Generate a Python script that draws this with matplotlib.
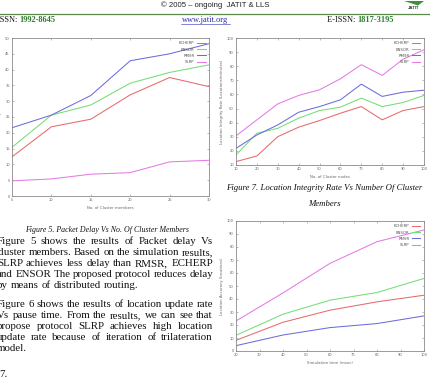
import matplotlib
matplotlib.use("Agg")
import matplotlib.pyplot as plt
from matplotlib.patches import Polygon
from matplotlib.lines import Line2D

W, H = 430, 377

# ---------------- data ----------------
series_names = ["ECHERP", "ENSOR", "RMSR", "SLRP"]
series_colors = ["#e66a6c", "#74de74", "#6c6cdc", "#e47ae4"]

fig5_x = [5, 10, 15, 20, 25, 30]
fig5_xlabels = ["5", "10", "15", "20", "25", "30"]
fig5_echerp = [12.4, 21.9, 24.3, 32.0, 37.5, 34.6]
fig5_ensor = [15.4, 25.6, 28.8, 35.7, 39.1, 41.5]
fig5_rmsr = [21.6, 25.6, 31.8, 42.8, 45.0, 48.2]
fig5_slrp = [4.8, 5.4, 6.9, 7.4, 10.8, 11.3]

fig7_x = [10, 20, 30, 40, 50, 60, 70, 80, 90, 100]
fig7_echerp = [12.4, 16.4, 30.1, 36.8, 41.5, 46.7, 51.4, 42.0, 48.6, 51.4]
fig7_ensor = [17.1, 32.5, 36.0, 43.2, 48.6, 51.0, 57.4, 51.4, 54.3, 59.3]
fig7_rmsr = [21.8, 31.3, 38.4, 47.4, 51.4, 56.2, 67.3, 58.6, 61.6, 63.0]
fig7_slrp = [30.6, 42.0, 53.3, 59.3, 63.3, 71.1, 81.1, 73.5, 85.0, 91.7]

fig8_x = [20, 40, 60, 80, 100]
fig8_echerp = [8.2, 22.1, 31.4, 37.8, 42.9]
fig8_ensor = [12.1, 28.3, 39.1, 45.0, 55.8]
fig8_rmsr = [4.1, 12.3, 18.0, 21.1, 27.0]
fig8_slrp = [23.1, 44.7, 67.4, 84.1, 93.1]

body_lines = [
    "Figure 5 shows the results of Packet delay Vs",
    "cluster members. Based on the simulation results,",
    "SLRP achieves less delay than RMSR, ECHERP",
    "and ENSOR The proposed protocol reduces delay",
    "by means of distributed routing.",
    "Figure 6 shows the results of location update rate",
    "Vs pause time. From the results, we can see that",
    "propose protocol SLRP achieves high location",
    "update rate because of iteration of trilateration",
    "model.",
]
body_last = [False, False, False, False, True, False, False, False, False, True]

# ---------------- figure ----------------
fig = plt.figure(figsize=(W / 100, H / 100), dpi=100)
fig.patch.set_facecolor("white")
renderer = fig.canvas.get_renderer()


def px_axes(l, t, r, b):
    return fig.add_axes([l / W, 1 - b / H, (r - l) / W, (b - t) / H])


def fx(x):
    return x / W


def fy(y):
    return 1 - y / H


def style_axes(ax, fs=2.6):
    for s in ax.spines.values():
        s.set_color("#8a8a8a")
        s.set_linewidth(0.6)
    ax.tick_params(direction="in", length=1.6, width=0.4, colors="#8a8a8a",
                   labelsize=fs, labelcolor="#666666", top=True, right=True, pad=1.5)


def draw(ax, x, ys, ylim, yticks, xticks, xlabels, xlabel, ylabel):
    for name, col, y in zip(series_names, series_colors, ys):
        ax.plot(x, y, color=col, lw=0.75, label=name)
    ax.set_ylim(*ylim)
    ax.set_yticks(yticks)
    ax.set_xlim(xticks[0], xticks[-1])
    ax.set_xticks(xticks)
    ax.set_xticklabels(xlabels)
    style_axes(ax)
    ax.set_xlabel(xlabel, fontsize=2.8, color="#666666", labelpad=3)
    ax.set_ylabel(ylabel, fontsize=2.8, color="#666666", labelpad=2)
    leg = ax.legend(loc="upper right", fontsize=2.8, frameon=False, markerfirst=False,
                    handlelength=2.2, handletextpad=0.6, labelspacing=0.55,
                    borderaxespad=0.5)
    for t in leg.get_texts():
        t.set_color("#555555")


ax5 = px_axes(12, 38, 209, 196)
draw(ax5, fig5_x, [fig5_echerp, fig5_ensor, fig5_rmsr, fig5_slrp],
     (0, 50), range(0, 51, 5), fig5_x, fig5_xlabels,
     "No. of Cluster members", "Packet delay (msec)")

ax7 = px_axes(236, 38, 424, 165)
draw(ax7, fig7_x, [fig7_echerp, fig7_ensor, fig7_rmsr, fig7_slrp],
     (10, 100), range(10, 101, 10), fig7_x, [str(v) for v in fig7_x],
     "No. of Cluster nodes", "Location Integrity Rate (Locations/minutes)")

fig8_ticks = list(range(20, 101, 10))
ax8 = px_axes(236, 221, 424, 351)
draw(ax8, fig8_x, [fig8_echerp, fig8_ensor, fig8_rmsr, fig8_slrp],
     (0, 100), range(0, 101, 10), fig8_ticks, [str(v) for v in fig8_ticks],
     "Simulation time (msec)", "Location Accuracy (locations)")

# ---------------- header ----------------
fig.text(fx(215), fy(5), "\u00a9 2005 \u2013 ongoing  JATIT & LLS", fontsize=5.6,
         family="Liberation Sans", ha="center", va="center", color="#222222")
fig.add_artist(Line2D([0, 1], [fy(13.5), fy(13.5)], transform=fig.transFigure,
                      color="#5a8a4a", lw=0.9))


def seq_text(x, y, parts, fs, family="Liberation Serif"):
    for txt, col, wt in parts:
        t = fig.text(fx(x), fy(y), txt, fontsize=fs, family=family, color=col,
                     weight=wt, ha="left", va="center")
        x += t.get_window_extent(renderer).width
    return x


seq_text(-3, 19.5, [("ISSN: ", "#111111", "normal"), ("1992-8645", "#2e7d2e", "bold")], 6.0)
seq_text(327, 19.5, [("E-ISSN: ", "#111111", "normal"), ("1817-3195", "#2e7d2e", "bold")], 6.0)
fig.text(fx(205.5), fy(19.5), "www.jatit.org", fontsize=6.0, family="Liberation Serif",
         color="#2a2ab0", ha="center", va="center")
fig.add_artist(Line2D([fx(181), fx(230)], [fy(23.5), fy(23.5)], transform=fig.transFigure,
                      color="#2a2ab0", lw=0.4))

# logo
fig.add_artist(Polygon([[fx(404), fy(1)], [fx(424), fy(1)], [fx(418), fy(5.5)]],
                       closed=True, transform=fig.transFigure, facecolor="#3f8f3f",
                       edgecolor="none"))
fig.text(fx(414), fy(8), "JATIT", fontsize=3.2, family="Liberation Sans", weight="bold",
         color="#334433", ha="center", va="center")

# ---------------- captions ----------------
fig.text(fx(107), fy(229.5), "Figure 5. Packet Delay Vs No. Of Cluster Members",
         fontsize=5.7, family="Liberation Serif", style="italic", ha="center", va="center",
         color="#111111")
fig.text(fx(324), fy(188), "Figure 7. Location Integrity Rate Vs Number Of Cluster",
         fontsize=6.3, family="Liberation Serif", style="italic", ha="center", va="center",
         color="#111111")
fig.text(fx(324), fy(204), "Members", fontsize=6.3, family="Liberation Serif",
         style="italic", ha="center", va="center", color="#111111")


# ---------------- body text ----------------
def text_width(s, fs):
    t = fig.text(0, 0, s, fontsize=fs, family="Liberation Serif")
    w = t.get_window_extent(renderer).width
    t.remove()
    return w


# choose the body font size so that the tightest line just fits the column
X0, X1 = -3, 213
ref_w = text_width(body_lines[5], 10.0)
body_fs = 10.0 * (X1 - X0 - 2) / ref_w


def justify(line, x0, x1, y, fs, last):
    words = line.split(" ")
    objs = []
    widths = []
    for w in words:
        t = fig.text(0, fy(y), w, fontsize=fs, family="Liberation Serif", ha="left",
                     va="center", color="#111111")
        objs.append(t)
        widths.append(t.get_window_extent(renderer).width)
    sw = text_width("a a", fs) - text_width("aa", fs)
    if last or len(words) == 1:
        gap = sw
    else:
        gap = (x1 - x0 - sum(widths)) / (len(words) - 1)
    x = x0
    for t, w in zip(objs, widths):
        t.set_x(fx(x))
        x += w + gap


body_y = [241.5, 252.5, 263.5, 274.5, 285.5, 304.5, 315.5, 326.5, 337.5, 348.5]
for line, yy, last in zip(body_lines, body_y, body_last):
    justify(line, X0, X1, yy, body_fs, last)

fig.text(fx(-1), fy(374.5), "7.", fontsize=body_fs, family="Liberation Serif", ha="left",
         va="center", color="#111111")

fig.savefig("out.png", dpi=100, facecolor="white")
